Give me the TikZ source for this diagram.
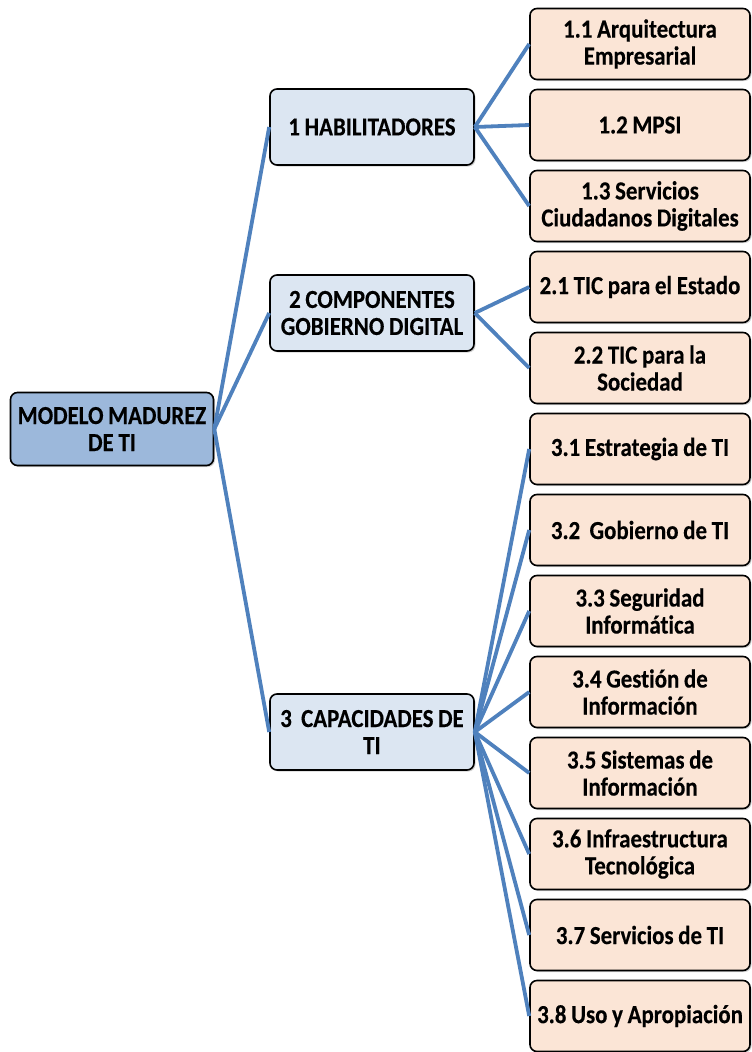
\documentclass[tikz,border=0pt]{standalone}
\usepackage{fontspec}
\setmainfont[Ligatures=NoCommon,WordSpace=0.9,FakeStretch=0.88]{Carlito}
\usepackage{xcolor}
\usetikzlibrary{arrows,positioning,shadows}
\definecolor{linkblue}{HTML}{4F81BD}
\definecolor{rootfill}{HTML}{9CB8DB}
\definecolor{midfill}{HTML}{DCE6F2}
\definecolor{leaffill}{HTML}{FBE5D6}

\begin{document}
\begin{tikzpicture}[x=1pt,y=1pt,node distance=81pt,
            box/.style={draw=black,line width=1.6pt,rounded corners=7pt,
                align=center,inner xsep=1pt,
                font=\fontsize{26}{27}\selectfont\bfseries\addfontfeature{FakeBold=0.3},
                drop shadow={shadow xshift=1.5pt,shadow yshift=-1.5pt,opacity=0.35}},
            rootbox/.style={box,fill=rootfill,minimum width=203pt,minimum height=73pt},
            midbox/.style={box,fill=midfill,minimum width=204pt,minimum height=76pt},
            leaf/.style={box,fill=leaffill,minimum width=220pt,minimum height=71pt},
            link/.style={draw=linkblue,line width=3.8pt}]
            \useasboundingbox (0,0) rectangle (752,-1052);

            \node[rootbox] (root) at (112,-429) {MODELO MADUREZ\\DE TI};

            \node[midbox] (hab) at (372,-127) {1 HABILITADORES};
            \node[midbox] (comp) at (372,-313) {2 COMPONENTES\\GOBIERNO DIGITAL};
            \node[midbox] (cap) at (372,-732) {3\ \ CAPACIDADES DE\\TI};

            \node[leaf] (l11) at (640,-44)   {1.1 Arquitectura\\Empresarial};
            \node[leaf] (l12) [below of=l11] {1.2 MPSI};
            \node[leaf] (l13) [below of=l12] {1.3 Servicios\\Ciudadanos Digitales};
            \node[leaf] (l21) [below of=l13] {2.1 TIC para el Estado};
            \node[leaf] (l22) [below of=l21] {2.2 TIC para la\\Sociedad};
            \node[leaf] (l31) [below of=l22] {3.1 Estrategia de TI};
            \node[leaf] (l32) [below of=l31] {3.2\ \ Gobierno de TI};
            \node[leaf] (l33) [below of=l32] {3.3 Seguridad\\Inform\'atica};
            \node[leaf] (l34) [below of=l33] {3.4 Gesti\'on de\\Informaci\'on};
            \node[leaf] (l35) [below of=l34] {3.5 Sistemas de\\Informaci\'on};
            \node[leaf] (l36) [below of=l35] {3.6 Infraestructura\\Tecnol\'ogica};
            \node[leaf] (l37) [below of=l36] {3.7 Servicios de TI};
            \node[leaf] (l38) [below of=l37] {3.8 Uso y Apropiaci\'on};

            % From root
            \path (root.east) edge[link] (hab.west);
            \path (root.east) edge[link] (comp.west);
            \path (root.east) edge[link] (cap.west);

            % From 1
            \foreach \l in {l11,l12,l13}
                \path (hab.east) edge[link] (\l.west);

            % From 2
            \foreach \l in {l21,l22}
                \path (comp.east) edge[link] (\l.west);

            % From 3
            \foreach \l in {l31,l32,l33,l34,l35,l36,l37,l38}
                \path (cap.east) edge[link] (\l.west);

\end{tikzpicture}
\end{document}
